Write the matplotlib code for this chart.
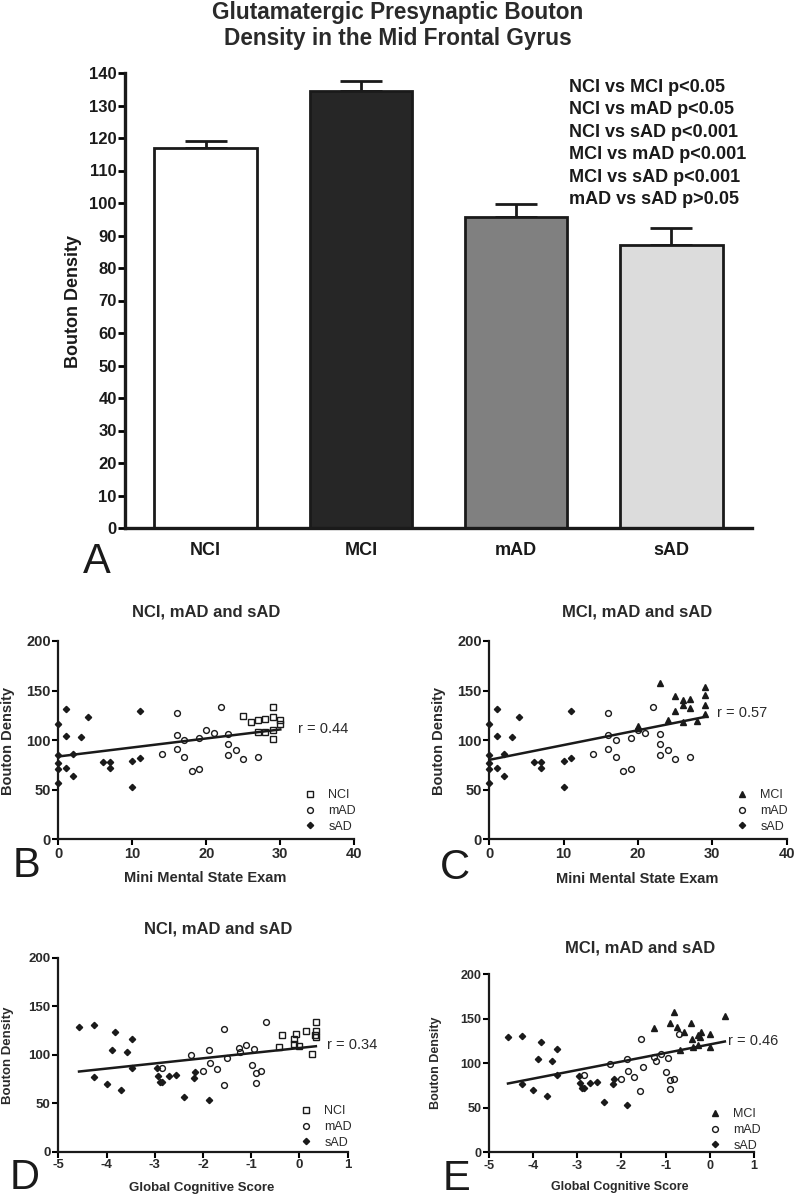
import matplotlib
matplotlib.use("Agg")
import matplotlib.pyplot as plt
from matplotlib.lines import Line2D
import numpy as np

plt.rcParams['axes.unicode_minus'] = False

NARROW = ['Liberation Sans Narrow', 'Liberation Sans', 'DejaVu Sans']
PLAIN = ['Liberation Sans', 'DejaVu Sans']

# --- panel A: bar chart data ---
groups = ['NCI', 'MCI', 'mAD', 'sAD']
bar_means = [116.8, 134.6, 95.6, 87.0]
bar_sem = [2.4, 2.8, 4.0, 5.2]
bar_colors = ['white', '#262626', '#808080', '#dcdcdc']
stats_lines = ['NCI vs MCI p<0.05', 'NCI vs mAD p<0.05', 'NCI vs sAD p<0.001',
               'MCI vs mAD p<0.001', 'MCI vs sAD p<0.001', 'mAD vs sAD p>0.05']

# --- MMSE scatter data (panels B, C) ---
nci_mmse = [25, 26, 27, 28, 29, 29, 30, 30, 27, 28, 29, 29]
nci_dens_m = [124.8, 118, 120.4, 121.4, 133.5, 123.8, 120.4, 116.4, 108.6, 108, 110.3, 101]
mci_mmse = [20, 20, 23, 24, 25, 25, 26, 26, 26, 27, 27, 28, 29, 29, 29, 29]
mci_dens_m = [114.4, 112, 158, 120.4, 144.6, 129, 140, 135.5, 118.7, 141, 132, 119.4,
              154, 145.6, 135.5, 126.5]
mad_mmse = [16, 16, 16, 17, 17, 14, 18, 19, 19, 20, 21, 22, 23, 23, 23, 24, 25, 27]
mad_dens_m = [127.8, 105.3, 91.5, 100.2, 82.7, 86, 68.6, 71.3, 102.3, 110.3, 107.6, 133.5,
              106, 96.2, 84.8, 89.8, 80.7, 82.7]
sad_mmse = [0, 0, 0, 0, 0, 1, 1, 1, 2, 2, 4, 3, 6, 7, 7, 10, 10, 11, 11]
sad_dens_m = [116.4, 85, 77, 71, 56.5, 131.5, 104.6, 72.3, 86, 64, 123, 103, 78, 78, 72,
              79, 53, 129.5, 81.7]

# --- global cognitive score scatter data (panels D, E) ---
nci_gcs = [-0.42, -0.36, -0.11, -0.08, -0.11, 0.0, 0.14, 0.27, 0.34, 0.34, 0.32, 0.34]
nci_dens_g = [107.9, 120, 116.5, 121.6, 110.7, 108.6, 124.4, 100.7, 133.3, 124.4, 120, 118.2]
mci_gcs = [-1.26, -0.81, -0.9, -0.75, -0.58, -0.43, -0.41, -0.26, -0.21, -0.22, 0.0, 0.34,
           0.0, -0.39, -0.26, -0.68]
mci_dens_g = [140, 158, 145, 141, 135.6, 145, 127, 132, 135, 130, 132.6, 153.6, 118.7,
              118.7, 120.6, 115]
mad_gcs = [-2.86, -2.25, -2.01, -1.88, -1.86, -1.71, -1.56, -1.57, -1.51, -1.26, -1.23,
           -1.1, -0.99, -0.94, -0.91, -0.91, -0.8, -0.69]
mad_dens_g = [86.3, 99.7, 82.8, 105, 91.8, 84.9, 126.8, 68.7, 96.2, 107.2, 102.4, 110.3,
              89.7, 105.8, 80.8, 70.8, 82.8, 133.3]
sad_gcs = [-4.57, -4.26, -4.25, -4.0, -3.89, -3.82, -3.69, -3.57, -3.47, -3.47, -2.96,
           -2.94, -2.9, -2.86, -2.71, -2.55, -2.39, -2.19, -2.16, -1.88]
sad_dens_g = [129, 131, 77, 69.8, 104.8, 123.4, 63.6, 103, 116, 86.3, 86, 78.4, 72, 72,
              78.4, 79, 56.4, 76.3, 81.8, 52.9]

r_texts = {'B': 'r = 0.44', 'C': 'r = 0.57', 'D': 'r = 0.34', 'E': 'r = 0.46'}

W, H = 795, 1199
fig = plt.figure(figsize=(W / 100, H / 100), dpi=100)


def fx(x):
    return x / W


def fy(y):
    return 1 - y / H


def rect(left, top, right, bottom):
    return [fx(left), fy(bottom), (right - left) / W, (bottom - top) / H]


# ---------------- panel A ----------------
ax = fig.add_axes(rect(125, 73, 752, 528))
xpos = np.arange(len(groups))
ax.bar(xpos, bar_means, width=0.66, color=bar_colors, edgecolor='#1a1a1a', linewidth=2.0,
       zorder=2)
ax.errorbar(xpos, bar_means, yerr=[np.zeros(len(bar_sem)), bar_sem], fmt='none',
            ecolor='#1a1a1a', elinewidth=2.0, capsize=15, capthick=2.0, zorder=1)
ax.set_xlim(-0.52, 3.52)
ax.set_ylim(0, 140)
ax.set_yticks(np.arange(0, 141, 10))
ax.set_xticks(xpos)
ax.set_xticklabels(groups)
for s in ['top', 'right']:
    ax.spines[s].set_visible(False)
for s in ['left', 'bottom']:
    ax.spines[s].set_linewidth(2.4)
    ax.spines[s].set_color('#1a1a1a')
ax.tick_params(axis='y', length=5, width=2.0, pad=1, labelsize=12)
ax.tick_params(axis='x', length=0, pad=10, labelsize=13)
for lbl in ax.get_yticklabels() + ax.get_xticklabels():
    lbl.set_fontfamily(NARROW)
    lbl.set_fontweight('bold')
    lbl.set_color('#1a1a1a')

fig.text(fx(398), fy(12), 'Glutamatergic Presynaptic Bouton', ha='center', va='center',
         fontsize=16.3, fontweight='bold', family=NARROW, color='#2a2a2a')
fig.text(fx(398), fy(39), 'Density in the Mid Frontal Gyrus', ha='center', va='center',
         fontsize=16.3, fontweight='bold', family=NARROW, color='#2a2a2a')
fig.text(fx(73), fy(302), 'Bouton Density', rotation=90, ha='center', va='center',
         fontsize=13, fontweight='bold', family=PLAIN, color='#1a1a1a')
for i, line in enumerate(stats_lines):
    fig.text(fx(569), fy(87 + i * 22.6), line, ha='left', va='center', fontsize=13,
             fontweight='bold', family=NARROW, color='#1a1a1a')
fig.text(fx(97), fy(562), 'A', ha='center', va='center', fontsize=30, family=PLAIN,
         color='#1a1a1a')


# ---------------- scatter panels ----------------
def scatter_panel(box, series, xlim, xticks, ylim_top, xlabel, title, letter, tick_fs,
                  lab_fs, title_pos, xlab_pos, ylab_pos, letter_pos, r_pos, leg_pos):
    ax = fig.add_axes(rect(*box))
    allx, ally = [], []
    handles = []
    for name, xs, ys, marker, ms, face in series:
        ax.plot(xs, ys, linestyle='none', marker=marker, ms=ms, mfc=face, mec='#1a1a1a',
                mew=1.0, clip_on=False, zorder=3)
        handles.append(Line2D([], [], linestyle='none', marker=marker, ms=ms, mfc=face,
                              mec='#1a1a1a', mew=1.0, label=name))
        allx += list(xs)
        ally += list(ys)
    slope, icpt = np.polyfit(allx, ally, 1)
    xl = np.array([min(allx), max(allx)])
    ax.plot(xl, slope * xl + icpt, color='#1a1a1a', lw=1.8, zorder=2)
    ax.set_xlim(*xlim)
    ax.set_ylim(0, ylim_top)
    ax.set_xticks(xticks)
    ax.set_yticks([0, 50, 100, 150, 200])
    for s in ['top', 'right']:
        ax.spines[s].set_visible(False)
    for s in ['left', 'bottom']:
        ax.spines[s].set_linewidth(1.6)
        ax.spines[s].set_color('#1a1a1a')
    ax.tick_params(length=4, width=1.5, pad=1.5, labelsize=tick_fs)
    for lbl in ax.get_yticklabels() + ax.get_xticklabels():
        lbl.set_fontfamily(PLAIN)
        lbl.set_fontweight('bold')
        lbl.set_color('#2a2a2a')
    fig.text(fx(title_pos[0]), fy(title_pos[1]), title, ha='center', va='center',
             fontsize=12, fontweight='bold', family=PLAIN, color='#2a2a2a')
    fig.text(fx(xlab_pos[0]), fy(xlab_pos[1]), xlabel, ha='center', va='center',
             fontsize=lab_fs, fontweight='bold', family=PLAIN, color='#2a2a2a')
    fig.text(fx(ylab_pos[0]), fy(ylab_pos[1]), 'Bouton Density', rotation=90, ha='center',
             va='center', fontsize=lab_fs, fontweight='bold', family=PLAIN, color='#2a2a2a')
    fig.text(fx(letter_pos[0]), fy(letter_pos[1]), letter, ha='center', va='center',
             fontsize=30, family=PLAIN, color='#1a1a1a')
    fig.text(fx(r_pos[0]), fy(r_pos[1]), r_texts[letter], ha='left', va='center',
             fontsize=10.5, family=PLAIN, color='#2a2a2a')
    leg = ax.legend(handles=handles, loc='upper left',
                    bbox_to_anchor=(fx(leg_pos[0]), fy(leg_pos[1])),
                    bbox_transform=fig.transFigure, frameon=False, borderpad=0,
                    handlelength=1.0, handletextpad=1.0, labelspacing=0.3,
                    prop={'family': PLAIN, 'size': 9})
    for t in leg.get_texts():
        t.set_color('#2a2a2a')
    return ax


scatter_panel((58.3, 641, 354.3, 839.3),
              [('NCI', nci_mmse, nci_dens_m, 's', 4.2, 'none'),
               ('mAD', mad_mmse, mad_dens_m, 'o', 4.2, 'none'),
               ('sAD', sad_mmse, sad_dens_m, 'D', 3.2, '#1a1a1a')],
              (0, 40), [0, 10, 20, 30, 40], 200, 'Mini Mental State Exam',
              'NCI, mAD and sAD', 'B', 10.5, 10.5,
              (206, 612), (205, 878), (8, 741), (26, 866), (298, 729), (297, 783))

scatter_panel((489.3, 641, 786.7, 839.3),
              [('MCI', mci_mmse, mci_dens_m, '^', 4.6, '#1a1a1a'),
               ('mAD', mad_mmse, mad_dens_m, 'o', 4.2, 'none'),
               ('sAD', sad_mmse, sad_dens_m, 'D', 3.2, '#1a1a1a')],
              (0, 40), [0, 10, 20, 30, 40], 200, 'Mini Mental State Exam',
              'MCI, mAD and sAD', 'C', 10.5, 10.5,
              (637, 612), (637, 879), (439, 741), (455, 868), (717, 713), (729, 783))

scatter_panel((58.3, 957.7, 347.7, 1151.7),
              [('NCI', nci_gcs, nci_dens_g, 's', 4.2, 'none'),
               ('mAD', mad_gcs, mad_dens_g, 'o', 4.2, 'none'),
               ('sAD', sad_gcs, sad_dens_g, 'D', 3.2, '#1a1a1a')],
              (-5, 1), [-5, -4, -3, -2, -1, 0, 1], 200, 'Global Cognitive Score',
              'NCI, mAD and sAD', 'D', 9.5, 9.5,
              (218, 929), (202, 1188), (8, 1055), (25, 1178), (327, 1045), (293, 1099))

scatter_panel((489, 974.3, 754, 1152.3),
              [('MCI', mci_gcs, mci_dens_g, '^', 4.6, '#1a1a1a'),
               ('mAD', mad_gcs, mad_dens_g, 'o', 4.2, 'none'),
               ('sAD', sad_gcs, sad_dens_g, 'D', 3.2, '#1a1a1a')],
              (-5, 1), [-5, -4, -3, -2, -1, 0, 1], 200, 'Global Cognitive Score',
              'MCI, mAD and sAD', 'E', 9, 9,
              (640, 948), (620, 1187), (436, 1063), (457, 1179), (728, 1041), (702, 1102))

fig.savefig('out.png', dpi=100, facecolor='white')
